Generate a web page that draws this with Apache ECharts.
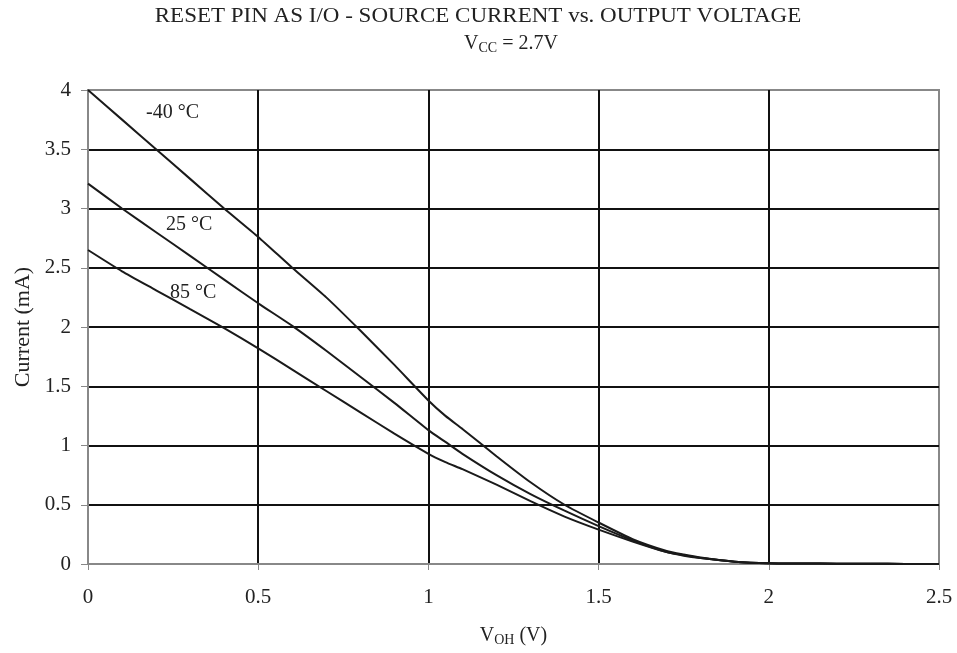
<!DOCTYPE html>
<html>
<head>
<meta charset="utf-8">
<script src="https://cdn.jsdelivr.net/npm/echarts@6/dist/echarts.min.js"></script>
<style>html,body{margin:0;padding:0;background:#fff;}#c{width:957px;height:653px;}</style>
</head>
<body>
<div id="c"></div>
<script>
const voltages = [0, 0.1, 0.2, 0.3, 0.4, 0.5, 0.6, 0.7, 0.8, 0.9, 1.0, 1.05, 1.1, 1.2, 1.3, 1.4, 1.5, 1.6, 1.7, 1.75, 1.8, 1.9, 2.0, 2.1, 2.2, 2.3, 2.4, 2.5];
const curM40 = [4.0, 3.75, 3.5, 3.25, 3.0, 2.76, 2.5, 2.25, 1.97, 1.68, 1.38, 1.25, 1.14, 0.91, 0.69, 0.5, 0.35, 0.21, 0.11, 0.08, 0.055, 0.02, 0.006, 0.004, 0.003, 0.002, 0.001, 0.0];
const cur25 = [3.21, 3.0, 2.8, 2.6, 2.4, 2.2, 2.01, 1.8, 1.58, 1.36, 1.13, 1.03, 0.93, 0.75, 0.59, 0.45, 0.32, 0.2, 0.1, 0.075, 0.05, 0.02, 0.006, 0.004, 0.003, 0.002, 0.001, 0.0];
const cur85 = [2.65, 2.47, 2.31, 2.15, 1.99, 1.82, 1.64, 1.46, 1.28, 1.1, 0.93, 0.86, 0.8, 0.67, 0.53, 0.4, 0.29, 0.19, 0.1, 0.07, 0.05, 0.02, 0.006, 0.004, 0.003, 0.002, 0.001, 0.0];
const seriesNames = ['-40 °C', '25 °C', '85 °C'];
const xTicks = [0, 0.5, 1, 1.5, 2, 2.5];
const yTicks = [0, 0.5, 1, 1.5, 2, 2.5, 3, 3.5, 4];
const titleText = 'RESET PIN AS I/O - SOURCE CURRENT vs. OUTPUT VOLTAGE';

const FONT = 'Liberation Serif';
const TXT = '#222';
const chart = echarts.init(document.getElementById('c'), null, {renderer: 'canvas'});
function pairs(ys) { return voltages.map((v, i) => [v, ys[i]]); }
const allSeries = [curM40, cur25, cur85];
chart.setOption({
  backgroundColor: '#fff',
  animation: false,
  title: [{
    text: '{n|V}{s|CC}{n| = 2.7V}',
    left: 506, top: 28, textAlign: 'center',
    textStyle: {fontWeight: 'normal', rich: {
      n: {fontFamily: FONT, fontSize: 20, fontWeight: 'normal', color: TXT},
      s: {fontFamily: FONT, fontSize: 14, fontWeight: 'normal', color: TXT, padding: [8, 0, 0, 0]}
    }}
  }],
  grid: {left: 88, right: 18, top: 90, bottom: 89, show: true, borderColor: '#888', borderWidth: 2, backgroundColor: 'transparent'},
  xAxis: {
    type: 'value', min: 0, max: 2.5, interval: 0.5,
    name: '{n|V}{s|OH}{n| (V)}', nameLocation: 'middle', nameGap: 61,
    nameTextStyle: {rich: {
      n: {fontFamily: FONT, fontSize: 20, color: TXT},
      s: {fontFamily: FONT, fontSize: 14, color: TXT, padding: [8, 0, 0, 0]}
    }},
    axisLine: {show: true, lineStyle: {color: '#888', width: 2}},
    axisTick: {show: true, length: 6, lineStyle: {color: '#888', width: 1}},
    axisLabel: {margin: 23, fontFamily: FONT, fontSize: 21, color: TXT, formatter: v => xTicks.includes(v) ? String(v) : ''},
    splitLine: {show: true, showMinLine: false, showMaxLine: false, lineStyle: {color: '#111', width: 2}}
  },
  yAxis: {
    type: 'value', min: 0, max: 4, interval: 0.5,
    name: 'Current (mA)', nameLocation: 'middle', nameGap: 54,
    nameTextStyle: {fontFamily: FONT, fontSize: 22, color: TXT},
    axisLine: {show: true, lineStyle: {color: '#888', width: 2}},
    axisTick: {show: true, length: 7, lineStyle: {color: '#888', width: 1}},
    axisLabel: {margin: 17, fontFamily: FONT, fontSize: 21, color: TXT, formatter: v => yTicks.includes(v) ? String(v) : ''},
    splitLine: {show: true, showMinLine: false, showMaxLine: false, lineStyle: {color: '#111', width: 2}}
  },
  series: allSeries.map((ys, i) => ({
    name: seriesNames[i], type: 'line', data: pairs(ys), symbol: 'none', smooth: 0.2,
    lineStyle: {color: '#1a1a1a', width: 2}, z: 5
  })),
  graphic: [
    {type: 'text', x: 478, y: 7, scaleX: 1.15, style: {text: titleText, font: '20px "Liberation Serif"', fill: TXT, textAlign: 'center', textVerticalAlign: 'top'}},
    {type: 'text', left: 146, top: 103, style: {text: seriesNames[0], font: '20px "Liberation Serif"', fill: TXT}},
    {type: 'text', left: 166, top: 215, style: {text: seriesNames[1], font: '20px "Liberation Serif"', fill: TXT}},
    {type: 'text', left: 170, top: 283, style: {text: seriesNames[2], font: '20px "Liberation Serif"', fill: TXT}}
  ]
});
</script>
</body>
</html>
